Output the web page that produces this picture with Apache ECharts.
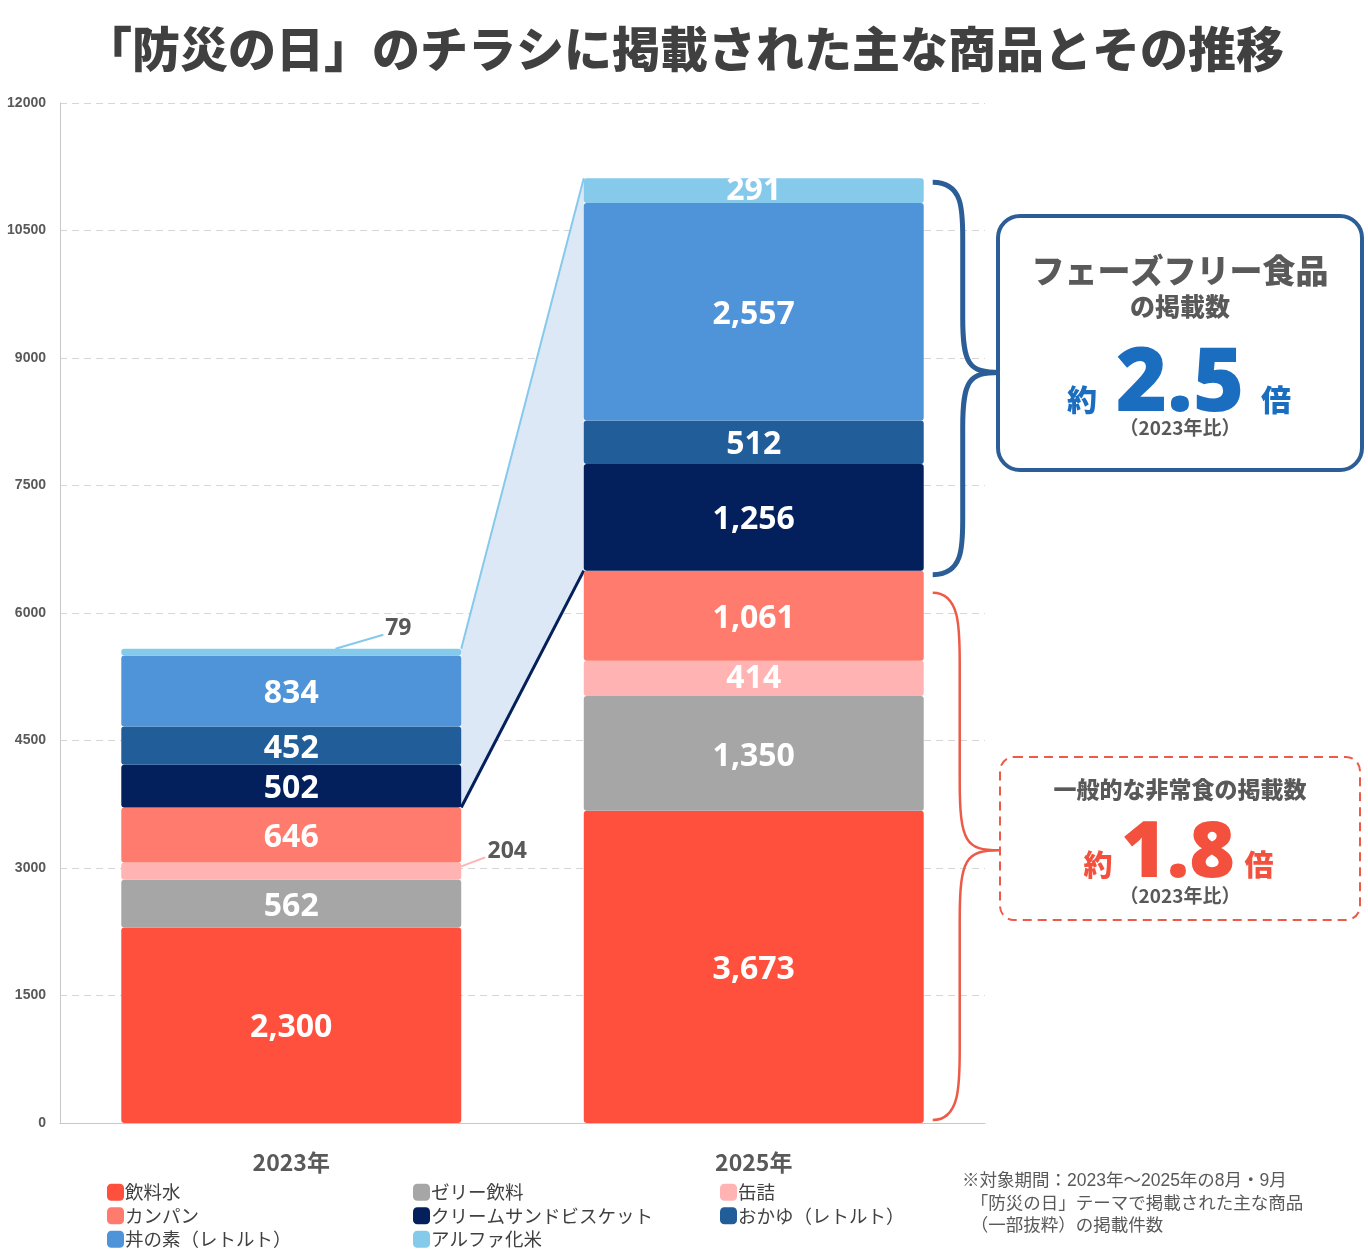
<!DOCTYPE html>
<html>
<head>
<meta charset="utf-8">
<script src="https://cdn.jsdelivr.net/npm/echarts@6/dist/echarts.min.js"></script>
<style>
  html, body { margin: 0; padding: 0; background: #fff; }
  #main { width: 1368px; height: 1255px; }
</style>
</head>
<body>
<div id="main"></div>
<script>
// データ（下から積み上げ順）
var categories = ['2023年', '2025年'];
var water = [2300, 3673];      // 飲料水
var jelly = [562, 1350];       // ゼリー飲料
var canned = [204, 414];       // 缶詰
var kanpan = [646, 1061];      // カンパン
var biscuit = [502, 1256];     // クリームサンドビスケット
var okayu = [452, 512];        // おかゆ（レトルト）
var donburi = [834, 2557];     // 丼の素（レトルト）
var alpha = [79, 291];         // アルファ化米
var yMax = 12000;
var yStep = 1500;

var names = ['飲料水', 'ゼリー飲料', '缶詰', 'カンパン', 'クリームサンドビスケット', 'おかゆ（レトルト）', '丼の素（レトルト）', 'アルファ化米'];
var colors = ['#FF503D', '#A6A6A6', '#FFB3B2', '#FF7B6E', '#03205C', '#215D99', '#4F94D8', '#85C9EB'];
var values = [water, jelly, canned, kanpan, biscuit, okayu, donburi, alpha];

var BAR_RATIO = 0.735;
var JP = '"Noto Sans CJK JP", "Noto Sans", sans-serif';
var NUM = '"Noto Sans", "Open Sans", sans-serif';

// 合計と一般的な非常食（下4つ）の合計
var totals = categories.map(function (c, i) {
    return values.reduce(function (s, arr) { return s + arr[i]; }, 0);
});
var bases = categories.map(function (c, i) {
    return water[i] + jelly[i] + canned[i] + kanpan[i];
});
var cannedTop0 = water[0] + jelly[0] + canned[0];

// 小さい値のラベル位置（引き出し線は custom シリーズで描く）
var TOP_LABEL_X = 0.815, TOP_LABEL_DY = -20;
var RIGHT_LABEL_DX = 46, RIGHT_LABEL_DY = -11;

function outsideLabel(kind) {
    return function (params) {
        if (params.dataIndex !== 0) return {};
        var r = params.rect;
        if (kind === 'top') {
            return { x: r.x + r.width * TOP_LABEL_X, y: r.y + TOP_LABEL_DY, align: 'center', verticalAlign: 'middle' };
        }
        return { x: r.x + r.width + RIGHT_LABEL_DX, y: r.y + RIGHT_LABEL_DY, align: 'center', verticalAlign: 'middle' };
    };
}

var series = names.map(function (name, k) {
    var s = {
        name: name,
        type: 'bar',
        stack: 'total',
        barWidth: (BAR_RATIO * 100) + '%',
        z: 3,
        itemStyle: { color: colors[k], borderRadius: 3 },
        label: {
            show: true,
            position: 'inside',
            offset: [0, 3],
            color: '#fff',
            fontFamily: NUM,
            fontWeight: 'bold',
            fontSize: 32,
            formatter: function (p) { return p.value.toLocaleString('en-US'); }
        },
        data: values[k].slice()
    };
    if (name === 'アルファ化米' || name === '缶詰') {
        s.data[0] = {
            value: values[k][0],
            label: { color: '#595959', fontSize: 23, offset: [0, 0] }
        };
        s.labelLayout = outsideLabel(name === 'アルファ化米' ? 'top' : 'right');
    }
    return s;
});

// 2本の棒をつなぐ台形、引き出し線、右側の括弧
series.push({
    type: 'custom',
    name: 'connector',
    z: 1,
    silent: true,
    clip: false,
    encode: { x: 0, y: 1 },
    data: [[0, totals[0], bases[0], totals[1], bases[1], cannedTop0]],
    renderItem: function (params, api) {
        var band = api.size([1, 0])[0];
        var half = band * BAR_RATIO / 2;
        var a = api.coord([0, api.value(1)]);
        var d = api.coord([0, api.value(2)]);
        var b = api.coord([1, api.value(3)]);
        var c = api.coord([1, api.value(4)]);
        var e = api.coord([0, api.value(5)]);
        var z0 = api.coord([1, 0]);
        var pA = [a[0] + half, a[1]];
        var pD = [d[0] + half, d[1]];
        var pB = [b[0] - half, b[1]];
        var pC = [c[0] - half, c[1]];

        // 79 の引き出し線
        var w = half * 2;
        var l79 = [a[0] - half + w * TOP_LABEL_X - 15, a[1] + TOP_LABEL_DY + 6];
        var s79 = [a[0] - half + w * 0.63, a[1]];
        // 204 の引き出し線
        var l204 = [e[0] + half + RIGHT_LABEL_DX - 22, e[1] + RIGHT_LABEL_DY + 6];
        var s204 = [e[0] + half, e[1] + 4];

        function brace(x0, xm, xt, yTop, yBot, k) {
            var ym = (yTop + yBot) / 2 - 6;
            return 'M' + x0 + ' ' + yTop +
                ' C' + xm + ' ' + yTop + ' ' + xm + ' ' + (yTop + k * 0.5) + ' ' + xm + ' ' + (yTop + k) +
                ' L' + xm + ' ' + (ym - k) +
                ' C' + xm + ' ' + (ym - 8) + ' ' + (xm + 6) + ' ' + ym + ' ' + xt + ' ' + ym +
                ' C' + (xm + 6) + ' ' + ym + ' ' + xm + ' ' + (ym + 8) + ' ' + xm + ' ' + (ym + k) +
                ' L' + xm + ' ' + (yBot - k) +
                ' C' + xm + ' ' + (yBot - k * 0.5) + ' ' + xm + ' ' + yBot + ' ' + x0 + ' ' + yBot;
        }
        var bx0 = b[0] + half + 9;
        var bxm = bx0 + 30;
        var bxt = b[0] + half + 76;

        return {
            type: 'group',
            children: [
                { type: 'polygon', shape: { points: [pA, pB, pC, pD] }, style: { fill: '#DCE8F5' } },
                { type: 'line', shape: { x1: pA[0], y1: pA[1], x2: pB[0], y2: pB[1] }, style: { stroke: '#85C9EB', lineWidth: 2 } },
                { type: 'line', shape: { x1: pD[0], y1: pD[1], x2: pC[0], y2: pC[1] }, style: { stroke: '#03205C', lineWidth: 3 } },
                { type: 'line', shape: { x1: s79[0], y1: s79[1], x2: l79[0], y2: l79[1] }, style: { stroke: '#85C9EB', lineWidth: 2 } },
                { type: 'line', shape: { x1: s204[0], y1: s204[1], x2: l204[0], y2: l204[1] }, style: { stroke: '#FFB3B2', lineWidth: 2 } },
                { type: 'path', shape: { pathData: brace(bx0, bxm, bxt, b[1] + 4, c[1] + 4, 55) },
                  style: { stroke: '#2B5D97', lineWidth: 5, fill: null } },
                { type: 'path', shape: { pathData: brace(bx0, bxm - 3, bxt, c[1] + 22, z0[1] - 3, 70) },
                  style: { stroke: '#EE5A48', lineWidth: 2.5, fill: null } }
            ]
        };
    }
});

var legendBase = {
    orient: 'vertical',
    top: 1183,
    padding: 0,
    height: 72,
    itemWidth: 17,
    itemHeight: 17,
    itemGap: 5,
    icon: 'roundRect',
    textStyle: { fontFamily: JP, fontSize: 18.5, color: '#404040', padding: [0, 0, 0, -4] }
};

var myChart = echarts.init(document.getElementById('main'));
myChart.setOption({
    backgroundColor: '#fff',
    animation: false,
    title: {
        text: '「防災の日」のチラシに掲載された主な商品とその推移',
        left: 'center',
        top: 20,
        textStyle: { fontFamily: JP, fontSize: 48, fontWeight: 900, color: '#404040' }
    },
    grid: { left: 60, right: 383, top: 103, bottom: 132 },
    legend: [
        Object.assign({ left: 107, data: [names[0], names[3], names[6]] }, legendBase),
        Object.assign({ left: 413, data: [names[1], names[4], names[7]] }, legendBase),
        Object.assign({ left: 720, data: [names[2], names[5]] }, legendBase)
    ],
    xAxis: {
        type: 'category',
        data: categories,
        axisLine: { lineStyle: { color: '#C8C8C8' } },
        axisTick: { show: false },
        axisLabel: { margin: 28, fontFamily: JP, fontSize: 23, fontWeight: 'bold', color: '#595959' }
    },
    yAxis: {
        type: 'value',
        min: 0,
        max: yMax,
        interval: yStep,
        axisLine: { show: true, lineStyle: { color: '#C8C8C8' } },
        axisTick: { show: false },
        axisLabel: {
            margin: 14, fontFamily: 'Liberation Sans, Arial, sans-serif', fontSize: 14, fontWeight: 'bold', color: '#595959',
            formatter: function (v) { return String(v); }
        },
        splitLine: { lineStyle: { color: '#D6D6D6', type: [7, 5] } }
    },
    graphic: [
        { type: 'rect', x: 998, y: 216, shape: { width: 364, height: 254, r: 22 },
          style: { fill: '#fff', stroke: '#2B5D97', lineWidth: 4 } },
        { type: 'text', x: 1180, y: 270, style: { text: 'フェーズフリー食品', font: '900 33px ' + JP, fill: '#595959', align: 'center', verticalAlign: 'middle' } },
        { type: 'text', x: 1180, y: 306, style: { text: 'の掲載数', font: '900 25px ' + JP, fill: '#595959', align: 'center', verticalAlign: 'middle' } },
        { type: 'text', x: 1082, y: 400, style: { text: '約', font: '900 30px ' + JP, fill: '#1A6DBF', align: 'center', verticalAlign: 'middle' } },
        { type: 'text', x: 1180, y: 386, style: { text: '2.5', font: '900 88px ' + NUM, fill: '#1A6DBF', align: 'center', verticalAlign: 'middle' } },
        { type: 'text', x: 1276, y: 400, style: { text: '倍', font: '900 30px ' + JP, fill: '#1A6DBF', align: 'center', verticalAlign: 'middle' } },
        { type: 'text', x: 1180, y: 428, style: { text: '（2023年比）', font: 'bold 19px ' + JP, fill: '#595959', align: 'center', verticalAlign: 'middle' } },

        { type: 'rect', x: 1000, y: 757, shape: { width: 360, height: 163, r: 14 },
          style: { fill: '#fff', stroke: '#EE5A48', lineWidth: 2, lineDash: [9, 6] } },
        { type: 'text', x: 1180, y: 789, style: { text: '一般的な非常食の掲載数', font: '900 23px ' + JP, fill: '#595959', align: 'center', verticalAlign: 'middle' } },
        { type: 'text', x: 1098, y: 865, style: { text: '約', font: '900 29px ' + JP, fill: '#F4503E', align: 'center', verticalAlign: 'middle' } },
        { type: 'text', x: 1178, y: 855, style: { text: '1.8', font: '900 78px ' + NUM, fill: '#F4503E', align: 'center', verticalAlign: 'middle' } },
        { type: 'text', x: 1259, y: 865, style: { text: '倍', font: '900 29px ' + JP, fill: '#F4503E', align: 'center', verticalAlign: 'middle' } },
        { type: 'text', x: 1180, y: 896, style: { text: '（2023年比）', font: 'bold 19px ' + JP, fill: '#595959', align: 'center', verticalAlign: 'middle' } },

        { type: 'text', x: 962, y: 1170, style: {
            text: '※対象期間：2023年～2025年の8月・9月\n　「防災の日」テーマで掲載された主な商品\n　（一部抜粋）の掲載件数',
            font: '17.5px "Liberation Sans", ' + JP, fill: '#595959', lineHeight: 22.5 } }
    ],
    series: series
});
</script>
</body>
</html>
